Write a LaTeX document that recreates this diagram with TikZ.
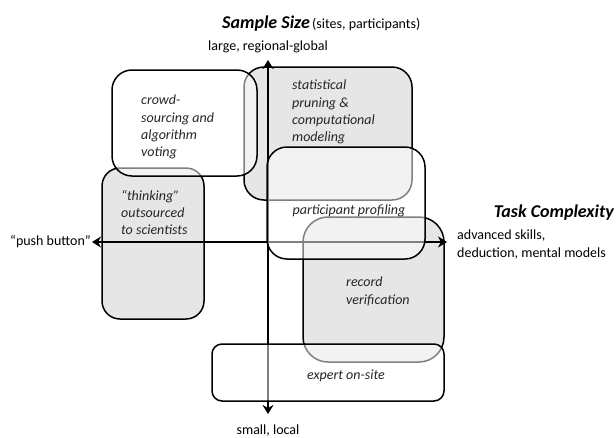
\documentclass[tikz,border=0pt]{standalone}
\usepackage{fontspec}
\setmainfont{Carlito}
\usetikzlibrary{arrows.meta}
\definecolor{boxgray}{RGB}{230,230,230}
\begin{document}
\begin{tikzpicture}[x=1pt,y=-1pt,
  boxbase/.style={draw=black, line width=1.5pt, inner sep=0pt, outer sep=0pt},
  graybox/.style={boxbase, fill=boxgray},
  whitebox/.style={boxbase, fill=white, fill opacity=0.5},
  axis/.style={line width=2.6pt, arrows={Stealth[length=9pt,width=11pt]-Stealth[length=9pt,width=11pt]}},
  lbl/.style={font=\fontsize{14}{18}\selectfont, inner sep=0pt, align=left},
  itl/.style={font=\fontsize{14}{17.3}\selectfont\itshape, inner sep=0pt, align=left, text=black!85},
  ttl/.style={font=\fontsize{18}{20}\selectfont\bfseries\itshape, inner sep=0pt}
]
\useasboundingbox (0,0) rectangle (616,437);

% gray boxes (bottom layer)
\node[graybox, rounded corners=20pt, minimum width=168pt, minimum height=133pt] (stat) at (328,133.5) {};
\node[graybox, rounded corners=18pt, minimum width=102pt, minimum height=151pt] (think) at (153,243.5) {};
\node[graybox, rounded corners=25pt, minimum width=141pt, minimum height=145pt] (rec) at (373.5,289.5) {};

% axes
\coordinate (top) at (268,60);
\coordinate (bot) at (268,414);
\coordinate (left) at (92,242);
\coordinate (right) at (447,242);
\draw[axis] (bot) -- (top);
\draw[axis] (left) -- (right);

% translucent white boxes (top layer)
\node[whitebox, rounded corners=20pt, minimum width=145pt, minimum height=106pt] (crowd) at (184.5,123) {};
\node[whitebox, rounded corners=20pt, minimum width=158pt, minimum height=112pt] (part) at (346,203) {};
\node[whitebox, rounded corners=10pt, minimum width=232pt, minimum height=57pt] (exp) at (328,372.5) {};

% box texts
\node[itl, anchor=north west] (tstat) at (292,80) {statistical\\pruning \&\\computational\\modeling};
\node[itl, anchor=north west] (tcrowd) at (141,95) {crowd-\\sourcing and\\algorithm\\voting};
\node[itl, anchor=north west] (tthink) at (121,190) {“thinking”\\outsourced\\to scientists};
\node[itl, anchor=center] (tpart) at (349,211) {participant profiling};
\node[itl, anchor=north west] (trec) at (346,277) {record\\verification};
\node[itl, anchor=center] (texp) at (346,376) {expert on-site};

% axis labels
\node[inner sep=0pt, anchor=base west] (title) at (222,28) {{\fontsize{18}{20}\selectfont\bfseries\itshape Sample Size} {\fontsize{14}{16}\selectfont (sites, participants)}};
\node[lbl, anchor=center] (large) at (268,47) {large, regional-global};
\node[lbl, anchor=center] (small) at (268,431) {small, local};
\node[lbl, anchor=east] (push) at ([xshift=-1pt]left) {“push button”};
\node[ttl, anchor=east] (task) at (614,213) {Task Complexity};
\node[lbl, anchor=west] (adv) at (457,245) {advanced skills,\\deduction, mental models};
\end{tikzpicture}
\end{document}
